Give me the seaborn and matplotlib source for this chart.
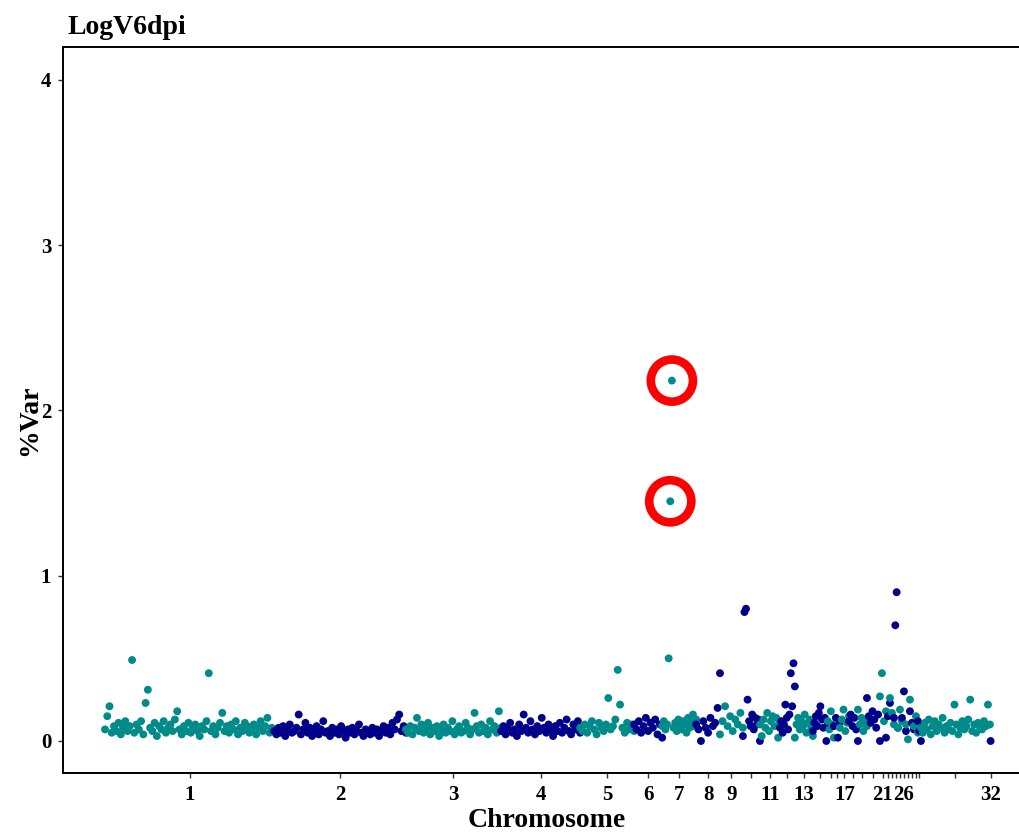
import numpy as np
import pandas as pd
import matplotlib
matplotlib.use("Agg")
import matplotlib.pyplot as plt
import seaborn as sns

# ---------------- data ----------------
chrom_names = [str(i) for i in range(1, 33)]
chrom_sizes_mb = [199, 155, 112, 93, 63.5, 33, 40, 28, 27, 20, 23.5, 17.6, 21.2, 17.6,
                  7.1, 7.1, 10.6, 10.6, 10.6, 15.3, 7.1, 4.7, 4.7, 4.7, 4.7, 4.7, 4.7,
                  4.7, 4.7, 3.5, 81.2, 1.6]
labelled_chroms = ["1", "2", "3", "4", "5", "6", "7", "8", "9", "11", "13", "17", "21", "26", "32"]

chr01 = [0.07, 0.15, 0.21, 0.05, 0.09, 0.06, 0.11, 0.04, 0.08, 0.12, 0.06, 0.09, 0.49, 0.05, 0.10,
         0.07, 0.12, 0.04, 0.23, 0.31, 0.08, 0.06, 0.11, 0.03, 0.09, 0.07, 0.12, 0.05, 0.08, 0.10,
         0.06, 0.13, 0.18, 0.07, 0.04, 0.09, 0.06, 0.11, 0.05, 0.08, 0.10, 0.06, 0.03, 0.09, 0.07,
         0.12, 0.41, 0.06, 0.09, 0.04, 0.08, 0.11, 0.17, 0.06, 0.09, 0.05, 0.10, 0.07, 0.12, 0.04,
         0.08, 0.06, 0.11, 0.09, 0.05, 0.07, 0.10, 0.04, 0.08, 0.12, 0.06, 0.09, 0.14, 0.05, 0.08, 0.07]
chr02 = [0.06, 0.04, 0.08, 0.05, 0.09, 0.03, 0.07, 0.10, 0.05, 0.06, 0.08, 0.16, 0.04, 0.07, 0.11,
         0.05, 0.08, 0.03, 0.06, 0.09, 0.04, 0.07, 0.12, 0.05, 0.06, 0.03, 0.08, 0.05, 0.07, 0.04,
         0.09, 0.06, 0.02, 0.07, 0.05, 0.08, 0.04, 0.06, 0.10, 0.05, 0.03, 0.07, 0.06, 0.04, 0.08,
         0.05, 0.07, 0.03, 0.06, 0.09, 0.05, 0.08, 0.04, 0.11, 0.07, 0.13, 0.16, 0.06, 0.09, 0.05]
chr03 = [0.07, 0.05, 0.09, 0.04, 0.08, 0.14, 0.06, 0.10, 0.05, 0.07, 0.11, 0.04, 0.08, 0.06, 0.09,
         0.03, 0.07, 0.10, 0.05, 0.08, 0.06, 0.12, 0.04, 0.07, 0.09, 0.05, 0.06, 0.11, 0.08, 0.04,
         0.07, 0.17, 0.09, 0.05, 0.10, 0.06, 0.08, 0.04, 0.12, 0.07, 0.09, 0.05, 0.18, 0.08]
chr04 = [0.06, 0.09, 0.04, 0.08, 0.11, 0.05, 0.07, 0.03, 0.10, 0.06, 0.16, 0.08, 0.05, 0.12, 0.07,
         0.04, 0.09, 0.06, 0.14, 0.08, 0.05, 0.10, 0.07, 0.03, 0.09, 0.06, 0.11, 0.05, 0.08, 0.13,
         0.06, 0.04, 0.10, 0.07, 0.12, 0.05]
chr05 = [0.08, 0.06, 0.10, 0.05, 0.09, 0.12, 0.07, 0.04, 0.11, 0.08, 0.06, 0.10, 0.26, 0.07, 0.09,
         0.13, 0.43, 0.22, 0.08, 0.05, 0.11, 0.07, 0.10, 0.06]
chr06 = [0.10, 0.07, 0.12, 0.05, 0.09, 0.14, 0.06, 0.11, 0.08, 0.13, 0.04, 0.10, 0.02]
chr07 = [0.09, 0.12, 0.07, 0.10, 0.50, 1.45, 2.18, 0.08, 0.11, 0.06, 0.13, 0.09, 0.07, 0.12, 0.10,
         0.05, 0.14, 0.08, 0.11, 0.16, 0.09, 0.13]
chr08 = [0.10, 0.07, 0.00, 0.12, 0.08, 0.05, 0.14, 0.09, 0.11, 0.20, 0.41]
chr09 = [0.04, 0.12, 0.21, 0.09, 0.15, 0.06, 0.13, 0.10, 0.17, 0.08]
chr10 = [0.03, 0.78, 0.80, 0.25, 0.12, 0.09, 0.16, 0.07, 0.14, 0.10, 0.13, 0.00]
chr11 = [0.10, 0.03, 0.13, 0.08, 0.17, 0.06, 0.12, 0.15, 0.09, 0.14, 0.02, 0.11]
chr12 = [0.08, 0.12, 0.05, 0.10, 0.22, 0.14, 0.07, 0.16, 0.41, 0.21, 0.47, 0.33]
chr13 = [0.02, 0.10, 0.14, 0.07, 0.12, 0.09, 0.16, 0.05, 0.11, 0.13, 0.08, 0.03]
chr14 = [0.06, 0.11, 0.15, 0.09, 0.17, 0.21, 0.13, 0.08, 0.14, 0.00, 0.10]
chr15 = [0.12, 0.07, 0.18, 0.10, 0.02]
chr16 = [0.09, 0.14, 0.02, 0.11]
chr17 = [0.08, 0.13, 0.19, 0.06, 0.11, 0.15]
chr18 = [0.12, 0.16, 0.09, 0.14, 0.07, 0.00]
chr19 = [0.19, 0.10, 0.14, 0.06, 0.12, 0.09]
chr20 = [0.26, 0.15, 0.11, 0.18, 0.13, 0.08, 0.16, 0.00]
chr21 = [0.27, 0.41, 0.12, 0.18]
chr22 = [0.02, 0.15, 0.23]
chr23 = [0.26, 0.17, 0.10]
chr24 = [0.14, 0.70, 0.90, 0.08]
chr25 = [0.08, 0.19, 0.12]
chr26 = [0.14, 0.30, 0.06]
chr27 = [0.10, 0.01, 0.25]
chr28 = [0.18, 0.11, 0.07]
chr29 = [0.09, 0.15, 0.05]
chr30 = [0.12, 0.06, 0.00]
chr31 = [0.08, 0.05, 0.11, 0.07, 0.13, 0.04, 0.09, 0.12, 0.06, 0.10, 0.08, 0.14, 0.05, 0.09, 0.07,
         0.11, 0.06, 0.22, 0.10, 0.04, 0.08, 0.12, 0.07, 0.09, 0.13, 0.25, 0.06, 0.10, 0.05, 0.11,
         0.08, 0.07, 0.12, 0.09, 0.22, 0.10]
chr32 = [0.00]

chrom_values = [chr01, chr02, chr03, chr04, chr05, chr06, chr07, chr08, chr09, chr10, chr11,
                chr12, chr13, chr14, chr15, chr16, chr17, chr18, chr19, chr20, chr21, chr22,
                chr23, chr24, chr25, chr26, chr27, chr28, chr29, chr30, chr31, chr32]

highlight_threshold = 1.0
title_text = "LogV6dpi"

# ---------------- build frame ----------------
sizes = np.array(chrom_sizes_mb, dtype=float)
starts = np.concatenate([[0.0], np.cumsum(sizes)[:-1]])
mids = starts + sizes / 2

rows = []
for i, vals in enumerate(chrom_values):
    if len(vals) > 1:
        pos = np.linspace(starts[i], starts[i] + sizes[i], len(vals))
    else:
        pos = [mids[i]]
    for p, v in zip(pos, vals):
        rows.append({"chrom": chrom_names[i], "pos": p, "var": v,
                     "group": "odd" if i % 2 == 0 else "even"})
df = pd.DataFrame(rows)

# ---------------- plot ----------------
sns.set_theme(style="white")
plt.rcParams["font.family"] = ["Liberation Serif", "DejaVu Serif"]
plt.rcParams["font.weight"] = "bold"
plt.rcParams["text.color"] = "black"

W, H = 1020, 836
fig = plt.figure(figsize=(W / 100, H / 100), dpi=100)
ax = fig.add_axes([63 / W, (H - 773) / H, (1030 - 63) / W, (773 - 47) / H])

sns.scatterplot(data=df, x="pos", y="var", hue="group",
                palette={"odd": "#008B8B", "even": "#00008B"},
                s=32, linewidth=0, legend=False, ax=ax, zorder=3)

hi = df[df["var"] > highlight_threshold]
ax.scatter(hi["pos"], hi["var"], s=920, facecolors="none", edgecolors="#FF0000",
           linewidths=6.2, zorder=4)

px_per_mb = 0.85
ax.set_xlim((63 - 105) / px_per_mb, (1030 - 105) / px_per_mb)
ax.set_ylim(-0.1936, 4.198)

ax.set_xticks(mids)
ax.set_xticklabels([n if n in labelled_chroms else "" for n in chrom_names])
ax.set_yticks([0, 1, 2, 3, 4])
ax.set_yticklabels(["0", "1", "2", "3", "4"])

ax.tick_params(axis="both", which="major", direction="out", length=3.5, width=1.0,
               color="#333333", labelsize=15, pad=5, bottom=True, left=True,
               labelcolor="black")
for lab in ax.get_xticklabels() + ax.get_yticklabels():
    lab.set_fontweight("bold")
    lab.set_color("black")

for side in ["left", "bottom", "top"]:
    ax.spines[side].set_visible(True)
    ax.spines[side].set_color("black")
    ax.spines[side].set_linewidth(1.4)
ax.spines["right"].set_visible(False)
ax.grid(False)

ax.set_xlabel("")
ax.set_ylabel("")
fig.text(547 / W, (H - 833) / H, "Chromosome", ha="center", va="bottom",
         fontsize=20, fontweight="bold", color="black")
fig.text(30 / W, (H - 420) / H, "%Var", ha="center", va="center", rotation=90,
         fontsize=20, fontweight="bold", color="black")
fig.text(68 / W, (H - 34) / H, title_text, ha="left", va="baseline",
         fontsize=20, fontweight="bold", color="black")

fig.savefig("out.png", dpi=100)
